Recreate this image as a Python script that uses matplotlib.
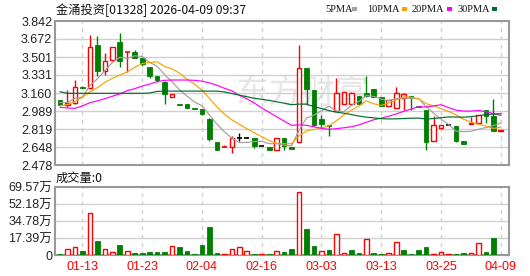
import numpy as np
import pandas as pd
import matplotlib
matplotlib.use("Agg")
import matplotlib.pyplot as plt
from matplotlib.patches import Rectangle

# ---------------- data ----------------
title = "金涌投资[01328] 2026-04-09 09:37"
vol_title = "成交量:0"

dates = ["01-08", "01-09", "01-12", "01-13", "01-14", "01-15", "01-16", "01-19", "01-20", "01-21",
         "01-22", "01-23", "01-26", "01-27", "01-28", "01-29", "01-30", "02-02", "02-03", "02-04",
         "02-05", "02-06", "02-09", "02-10", "02-11", "02-12", "02-13", "02-16", "02-20", "02-23",
         "02-24", "02-25", "02-26", "02-27", "03-02", "03-03", "03-04", "03-05", "03-06", "03-09",
         "03-10", "03-11", "03-12", "03-13", "03-16", "03-17", "03-18", "03-19", "03-20", "03-23",
         "03-24", "03-25", "03-26", "03-27", "03-30", "03-31", "04-01", "04-02", "04-08", "04-09"]

opens = [3.09, 3.05, 3.07, 3.22, 3.21, 3.61, 3.37, 3.47, 3.64, 3.55,
         3.55, 3.49, 3.41, 3.32, 3.26, 3.12, 3.06, 3.06, 3.02, 3.01,
         2.91, 2.70, 2.65, 2.65, 2.73, 2.73, 2.73, 2.66, 2.65, 2.62,
         2.73, 2.65, 2.70, 3.40, 3.19, 2.91, 2.86, 2.99, 3.06, 3.06,
         3.13, 3.16, 3.20, 3.12, 3.04, 3.02, 3.11, 3.13, 3.04, 3.00,
         2.71, 2.83, 2.86, 2.85, 2.71, 2.87, 2.88, 3.00, 2.94, 2.80]
highs = [3.09, 3.19, 3.28, 3.23, 3.71, 3.70, 3.54, 3.60, 3.73, 3.55,
         3.57, 3.49, 3.41, 3.32, 3.27, 3.15, 3.06, 3.06, 3.02, 3.01,
         2.92, 2.70, 2.67, 2.75, 2.78, 2.74, 2.73, 2.66, 2.65, 2.73,
         2.73, 2.65, 3.61, 3.40, 3.19, 2.95, 2.86, 3.30, 3.17, 3.17,
         3.13, 3.32, 3.20, 3.12, 3.09, 3.22, 3.16, 3.13, 3.04, 3.00,
         2.94, 2.86, 2.86, 2.85, 2.71, 2.93, 2.95, 3.00, 3.10, 2.81]
lows = [3.05, 3.03, 3.06, 3.21, 3.20, 3.32, 3.33, 3.46, 3.41, 3.36,
        3.49, 3.42, 3.30, 3.26, 3.06, 3.12, 3.05, 3.02, 3.01, 2.95,
        2.71, 2.62, 2.65, 2.59, 2.71, 2.73, 2.64, 2.66, 2.62, 2.62,
        2.62, 2.63, 2.70, 3.05, 2.85, 2.83, 2.75, 2.99, 3.06, 3.06,
        3.06, 3.12, 3.12, 3.04, 3.04, 3.02, 3.00, 3.00, 3.03, 2.62,
        2.71, 2.82, 2.86, 2.70, 2.68, 2.87, 2.88, 2.88, 2.80, 2.80]
closes = [3.05, 3.07, 3.22, 3.21, 3.60, 3.37, 3.46, 3.60, 3.46, 3.55,
          3.49, 3.43, 3.32, 3.28, 3.15, 3.15, 3.05, 3.02, 3.01, 2.96,
          2.72, 2.62, 2.65, 2.73, 2.73, 2.73, 2.66, 2.66, 2.62, 2.73,
          2.66, 2.63, 3.40, 3.20, 2.86, 2.87, 2.85, 3.16, 3.17, 3.16,
          3.06, 3.13, 3.12, 3.04, 3.09, 3.16, 3.15, 3.11, 3.03, 2.70,
          2.86, 2.86, 2.86, 2.71, 2.68, 2.88, 2.95, 2.945, 2.80, 2.81]
volumes = [14000, 61000, 82000, 41000, 426000, 145000, 61000, 31000, 102000, 41000,
           20000, 20000, 31000, 31000, 31000, 90000, 80000, 41000, 14000, 102000,
           286000, 20000, 10000, 60000, 78000, 38000, 14000, 10000, 10000, 38000,
           31000, 66000, 648000, 271000, 88000, 43000, 47000, 218000, 24000, 56000,
           18000, 165000, 18000, 8000, 17000, 138000, 51000, 14000, 51000, 82000,
           12000, 27000, 10000, 12000, 20000, 20000, 119000, 31000, 174000, 0]

# moving-average values for days before each window fills
ma5_head = [3.07, 3.07, 3.11, 3.12]
ma10_head = [3.04, 3.05, 3.08, 3.12, 3.17, 3.21, 3.26, 3.30, 3.33]
ma20_head = [3.025, 3.018, 3.015, 3.037, 3.068, 3.085, 3.106, 3.129, 3.151, 3.182,
             3.201, 3.226, 3.245, 3.267, 3.280, 3.283, 3.283, 3.283, 3.280]
ma30_head = [3.172, 3.157, 3.157, 3.157, 3.157, 3.157, 3.157, 3.157, 3.157, 3.157,
             3.157, 3.157, 3.160, 3.175, 3.178, 3.178, 3.178, 3.178, 3.178, 3.178,
             3.178, 3.178, 3.170, 3.155, 3.140, 3.125, 3.110, 3.100, 3.090]

price_ticks = [2.478, 2.648, 2.819, 2.989, 3.160, 3.331, 3.501, 3.672, 3.842]
price_tick_labels = ["2.478", "2.648", "2.819", "2.989", "3.160", "3.331", "3.501", "3.672", "3.842"]
vol_ticks = [0, 173925, 347850, 521775, 695700]
vol_tick_labels = ["0", "17.39万", "34.78万", "52.18万", "69.57万"]
xtick_labels = ["01-13", "01-23", "02-04", "02-16", "03-03", "03-13", "03-25", "04-09"]
ma_names = ["5PMA", "10PMA", "20PMA", "30PMA"]

# ---------------- styling ----------------
RED = "#ff0000"
GREEN = "#008000"
BLACK = "#000000"
MA_COLORS = ["#a0a0a0", "#f5a300", "#ff00ff", "#006b2e"]
GRID = "#d0d0d0"
FRAME = "#999999"
LAB = ["Liberation Sans", "Noto Sans CJK SC"]
CJK = ["Noto Sans CJK SC", "DejaVu Sans"]

W, H = 530, 276
fig = plt.figure(figsize=(W / 100, H / 100), dpi=100)
fig.patch.set_facecolor("white")

L, R = 55, 509
ax1 = fig.add_axes([L / W, 1 - 165 / H, (R - L) / W, (165 - 21) / H])
ax2 = fig.add_axes([L / W, 1 - 255 / H, (R - L) / W, (255 - 187) / H])

o = np.array(opens); h = np.array(highs); l = np.array(lows); c = np.array(closes)
v = np.array(volumes, dtype=float)
n = len(dates)
x = np.arange(n)
prev = np.r_[o[0], c[:-1]]

s = pd.Series(c)
def ma(win, head):
    m = s.rolling(win).mean().to_numpy()
    m[:len(head)] = head
    return m
mas = [ma(5, ma5_head), ma(10, ma10_head), ma(20, ma20_head), ma(30, ma30_head)]

# candle colors
eq = np.isclose(c, o)
col = []
for i in range(n):
    if not eq[i]:
        col.append(RED if c[i] > o[i] else GREEN)
    else:
        if np.isclose(c[i], prev[i]) and i > 0:
            col.append(BLACK)
        else:
            col.append(RED if c[i] > prev[i] else GREEN)

bw = 0.62
for i in range(n):
    if eq[i]:
        ax1.vlines(x[i], l[i], h[i], color=col[i], lw=1, zorder=3)
        ax1.hlines(c[i], x[i] - bw / 2, x[i] + bw / 2, color=col[i], lw=1.2, zorder=3)
    elif c[i] > o[i]:
        ax1.vlines(x[i], c[i], h[i], color=RED, lw=1, zorder=3)
        ax1.vlines(x[i], l[i], o[i], color=RED, lw=1, zorder=3)
        ax1.bar(x[i], c[i] - o[i], bottom=o[i], width=bw, facecolor="white",
                edgecolor=RED, linewidth=1, zorder=3)
    else:
        ax1.vlines(x[i], l[i], h[i], color=GREEN, lw=1, zorder=3)
        ax1.bar(x[i], o[i] - c[i], bottom=c[i], width=bw, facecolor=GREEN,
                edgecolor=GREEN, linewidth=0.6, zorder=3)

for m, cc in zip(mas, MA_COLORS):
    ax1.plot(x, m, color=cc, lw=0.85, zorder=4)

# volume
vup = c >= prev
for i in range(n):
    if v[i] <= 0:
        continue
    if vup[i]:
        ax2.bar(x[i], v[i], width=bw, facecolor="white", edgecolor=RED, linewidth=1, zorder=3)
    else:
        ax2.bar(x[i], v[i], width=bw, facecolor=GREEN, edgecolor=GREEN, linewidth=0.6, zorder=3)

xt = [dates.index(d) for d in xtick_labels]
for ax in (ax1, ax2):
    ax.set_xlim(-0.67, 60.1)
    ax.set_xticks(xt)
    for xx in xt:
        ax.axvline(xx, color=GRID, lw=1, ls=(0, (3, 3)), zorder=1)
    for sp in ax.spines.values():
        sp.set_color(FRAME)
        sp.set_linewidth(1.5)
    ax.tick_params(length=0)
    ax.set_facecolor("white")

ax1.set_ylim(price_ticks[0], price_ticks[-1])
ax1.set_yticks(price_ticks)
ax1.set_yticklabels(price_tick_labels, family=LAB, fontsize=9, color="#222222")
ax1.set_xticklabels([])
for yv in price_ticks[1:-1]:
    ax1.axhline(yv, color=GRID, lw=1, zorder=1)
ax1.tick_params(axis="y", pad=2)

ax2.set_ylim(0, vol_ticks[-1])
ax2.set_yticks(vol_ticks)
ax2.set_yticklabels(vol_tick_labels, family=LAB, fontsize=9, color="#222222")
ax2.set_xticklabels(xtick_labels, family=LAB, fontsize=9, color=RED)
for yv in vol_ticks[1:-1]:
    ax2.axhline(yv, color=GRID, lw=1, zorder=1)
ax2.tick_params(axis="y", pad=2)
ax2.tick_params(axis="x", pad=4)

# watermark
ax1.text(0.545, 0.5, "东方财富", transform=ax1.transAxes, ha="center", va="center",
         fontsize=24, color="#e6e6e6", family=CJK, zorder=0)

# titles
fig.text(56 / W, 1 - 10 / H, title, ha="left", va="center", fontsize=8.8, family=CJK, color="#111111")
fig.text(56 / W, 1 - 178 / H, vol_title, ha="left", va="center", fontsize=8.8, family=CJK, color="#111111")

# legend
leg_x = [325, 367, 412, 458]
mark_x = [352, 402, 447, 492]
for name, cc, tx, mx in zip(ma_names, MA_COLORS, leg_x, mark_x):
    fig.text(tx / W, 1 - 9 / H, name, ha="left", va="center", fontsize=7.5,
             family=["Liberation Serif"], color="#111111")
    fig.add_artist(Rectangle((mx / W, 1 - 10.5 / H), 5 / W, 3 / H, transform=fig.transFigure,
                             facecolor=cc, edgecolor="none"))

fig.savefig("out.png", dpi=100, facecolor="white")
